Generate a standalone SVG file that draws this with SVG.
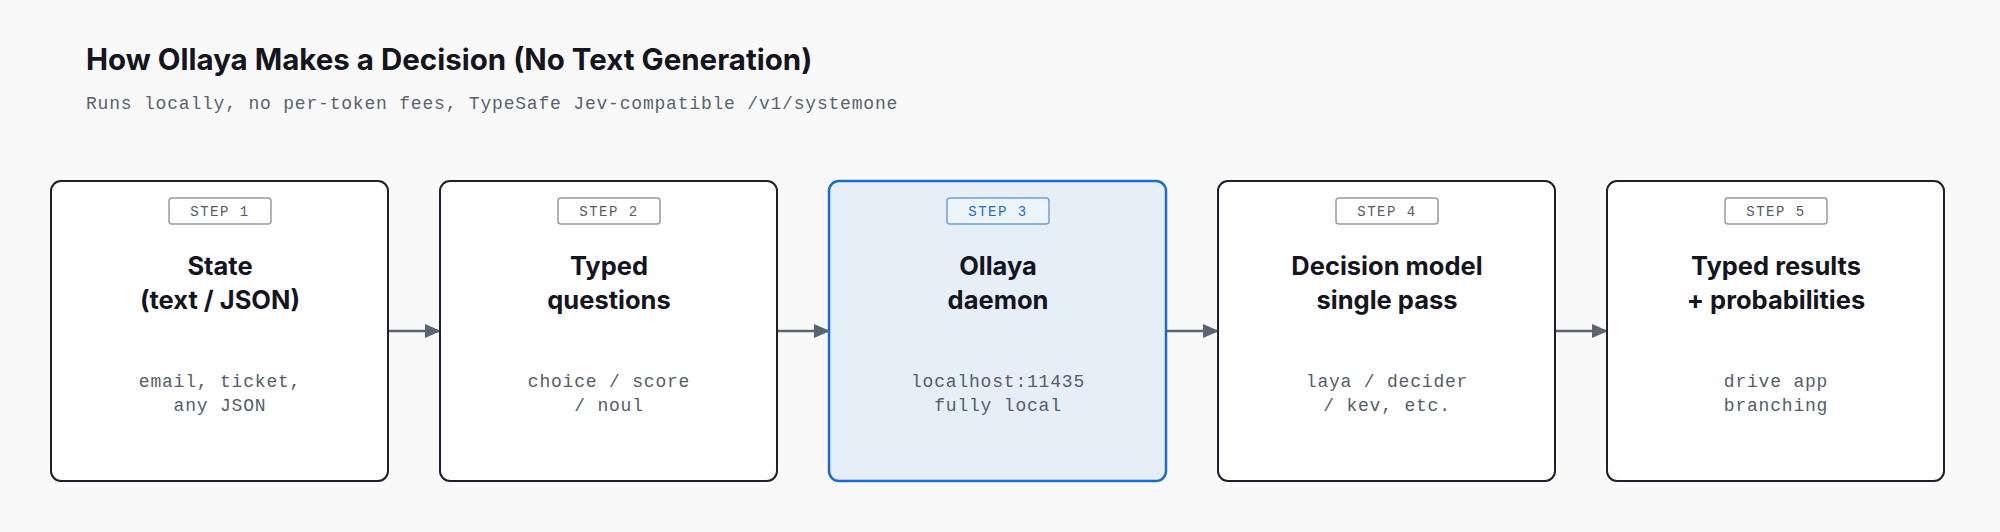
<svg xmlns="http://www.w3.org/2000/svg" width="2000" height="532" viewBox="0 0 2000 532">
<style>
.box{fill:#fff;stroke:#1f1f2e;stroke-width:2}
.hl{fill:#e6eef7;stroke:#1a6dd0;stroke-width:2.5}
.badge{fill:#fff;stroke:#9a9a9e;stroke-width:1.5}
.hlb{fill:#eef4fb;stroke:#6aa0e0;stroke-width:1.5}
.bt{font-family:"Liberation Mono",monospace;font-size:14px;fill:#555a63;text-anchor:middle;letter-spacing:1.5px}
.ttl{font-family:Inter,"Liberation Sans",sans-serif;font-weight:700;font-size:25.5px;fill:#15151f;text-anchor:middle}
.det{font-family:"Liberation Mono",monospace;font-size:18px;fill:#555d6a;text-anchor:middle;letter-spacing:0.8px}
.conn{stroke:#5a6472;stroke-width:2.5;fill:none;marker-end:url(#ah)}
</style>
<defs><marker id="ah" markerWidth="16" markerHeight="16" refX="15" refY="8" orient="auto" markerUnits="userSpaceOnUse"><path d="M0,1 L16,8 L0,15 z" fill="#5a6472"/></marker></defs>
<rect width="2000" height="532" fill="#f9f9f9"/>
<text x="86" y="70" font-family="Inter,'Liberation Sans',sans-serif" font-weight="700" font-size="29.5" fill="#15151f">How Ollaya Makes a Decision (No Text Generation)</text>
<text x="86" y="109" font-family="'Liberation Mono',monospace" font-size="18" letter-spacing="0.8" fill="#5a6270">Runs locally, no per-token fees, TypeSafe Jev-compatible /v1/systemone</text>
<g id="connectors">
<line class="conn" x1="389" y1="331" x2="440" y2="331"/>
<line class="conn" x1="778" y1="331" x2="829" y2="331"/>
<line class="conn" x1="1167" y1="331" x2="1218" y2="331"/>
<line class="conn" x1="1556" y1="331" x2="1607" y2="331"/>
</g>
<g id="step1"><rect class="box" x="51" y="181" width="337" height="300" rx="10"/><rect class="badge" x="169" y="198" width="102" height="26" rx="3"/><text class="bt" x="220" y="216">STEP 1</text><text class="ttl" x="220" y="275">State</text><text class="ttl" x="220" y="309">(text / JSON)</text><text class="det" x="220" y="387">email, ticket,</text><text class="det" x="220" y="411">any JSON</text></g>
<g id="step2"><rect class="box" x="440" y="181" width="337" height="300" rx="10"/><rect class="badge" x="558" y="198" width="102" height="26" rx="3"/><text class="bt" x="609" y="216">STEP 2</text><text class="ttl" x="609" y="275">Typed</text><text class="ttl" x="609" y="309">questions</text><text class="det" x="609" y="387">choice / score</text><text class="det" x="609" y="411">/ noul</text></g>
<g id="step3"><rect class="hl" x="829" y="181" width="337" height="300" rx="10"/><rect class="hlb" x="947" y="198" width="102" height="26" rx="3"/><text class="bt" x="998" y="216" style="fill:#1a6dd0">STEP 3</text><text class="ttl" x="998" y="275">Ollaya</text><text class="ttl" x="998" y="309">daemon</text><text class="det" x="998" y="387">localhost:11435</text><text class="det" x="998" y="411">fully local</text></g>
<g id="step4"><rect class="box" x="1218" y="181" width="337" height="300" rx="10"/><rect class="badge" x="1336" y="198" width="102" height="26" rx="3"/><text class="bt" x="1387" y="216">STEP 4</text><text class="ttl" x="1387" y="275">Decision model</text><text class="ttl" x="1387" y="309">single pass</text><text class="det" x="1387" y="387">laya / decider</text><text class="det" x="1387" y="411">/ kev, etc.</text></g>
<g id="step5"><rect class="box" x="1607" y="181" width="337" height="300" rx="10"/><rect class="badge" x="1725" y="198" width="102" height="26" rx="3"/><text class="bt" x="1776" y="216">STEP 5</text><text class="ttl" x="1776" y="275">Typed results</text><text class="ttl" x="1776" y="309">+ probabilities</text><text class="det" x="1776" y="387">drive app</text><text class="det" x="1776" y="411">branching</text></g>
</svg>
